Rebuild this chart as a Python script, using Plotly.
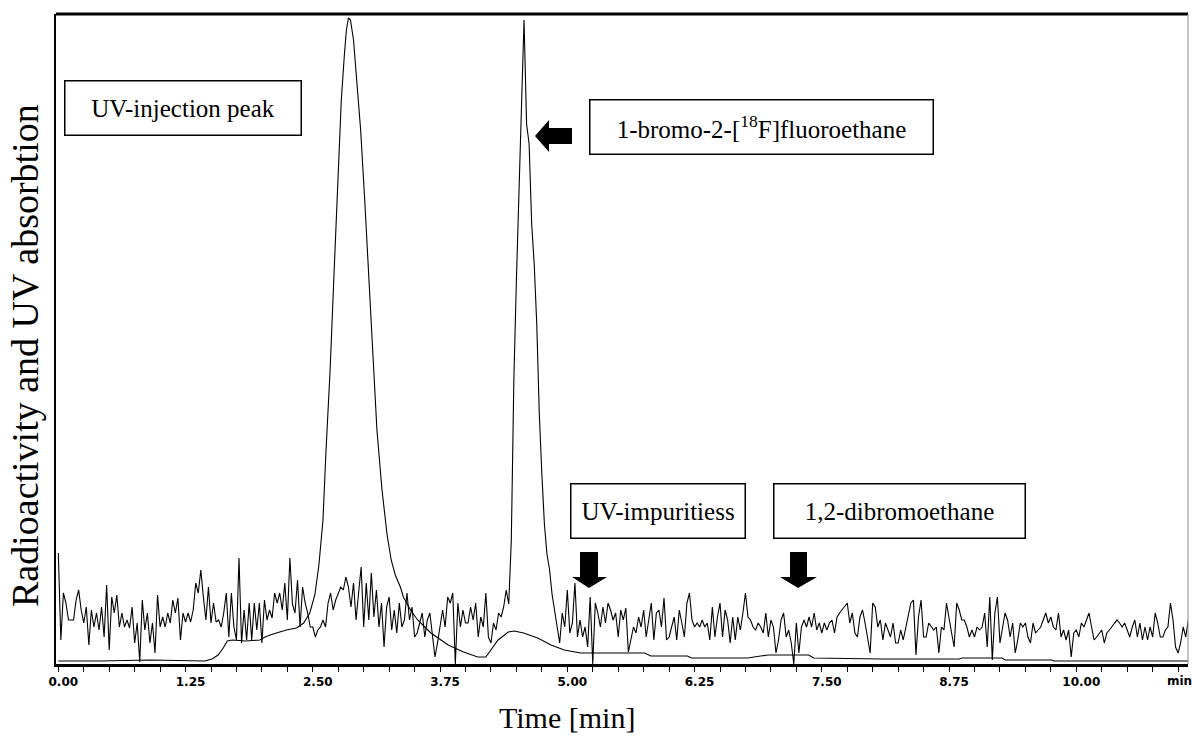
import numpy as np
import plotly.graph_objects as go

# ---------------- data ----------------
DT = 0.025  # sampling step of the radioactivity trace [min]
radio_signal = [
    # 0.00 - 2.75 min
    111, 24, 71, 61, 44, 44, 44, 64, 74, 54,
    41, 57, 19, 54, 37, 51, 34, 57, 27, 79,
    14, 67, 51, 69, 37, 51, 37, 44, 36, 57,
    21, 41, 2, 64, 34, 51, 21, 41, 11, 69,
    37, 47, 37, 51, 41, 64, 51, 66, 24, 51,
    42, 51, 42, 54, 81, 71, 94, 67, 44, 77,
    41, 61, 42, 44, 37, 51, 71, 27, 71, 37,
    24, 106, 21, 54, 24, 61, 24, 61, 34, 61,
    21, 64, 44, 54, 46, 71, 61, 71, 54, 81,
    44, 106, 60, 51, 84, 37, 77, 61, 51, 37,
    37, 27, 34, 37, 44, 37, 61, 71, 54, 64,
    71,
    # 2.775 - 4.40 min
    77, 74, 87, 77, 57, 81, 44, 71, 97, 37,
    81, 44, 91, 47, 74, 37, 61, 17, 57, 67,
    34, 54, 31, 61, 37, 44, 71, 44, 57, 27,
    31, 41, 51, 27, 44, 51, 27, 7, 21, 37,
    54, 37, 67, 61, 71, 0, 61, 37, 54, 41,
    41, 57, 44, 61, 27, 47, 37, 71, 27, 21,
    41, 34, 51, 47, 57, 74,
    # 1-bromo-2-[18F]fluoroethane peak
    60, 124, 284, 384, 474, 544, 644, 540, 520, 440,
    400, 340, 250, 190, 140, 110, 95, 70, 55, 40, 21,
    # 4.95 - 5.45 min
    51, 37, 74, 31, 41, 81, 27, 44, 27, 37,
    17, 67, 0, 61, 51, 37, 57, 41, 61, 54, 44,
    # 5.475 - 8.225 min
    51, 27, 54, 44, 56, 12, 24, 37, 31, 47,
    37, 54, 27, 44, 61, 24, 51, 54, 37, 66,
    24, 27, 37, 47, 24, 54, 41, 27, 61, 71,
    44, 37, 41, 37, 44, 37, 41, 24, 57, 27,
    47, 61, 27, 54, 44, 21, 47, 24, 47, 34,
    51, 71, 47, 44, 37, 34, 41, 37, 31, 51,
    27, 44, 37, 11, 24, 44, 51, 27, 34, 21,
    0, 41, 11, 37, 44, 37, 47, 37, 51, 34,
    41, 31, 41, 34, 41, 44, 31, 47, 51, 54,
    57, 61, 41, 51, 31, 27, 47, 54, 41, 24,
    11, 61, 57, 37, 44, 24, 41, 34, 27, 41,
    21,
    # 8.25 - 11.10 min
    21, 34, 24, 37, 47, 61, 64, 9, 47, 64,
    27, 27, 41, 37, 34, 37, 11, 37, 34, 61,
    44, 31, 17, 61, 54, 44, 44, 37, 27, 34,
    27, 37, 34, 37, 51, 17, 67, 4,
    51, 67, 21, 37, 51, 44, 27, 41, 11, 24,
    41, 37, 41, 27, 21, 41, 31, 34, 37, 44,
    51, 41, 47, 37, 34, 51, 27, 34, 24, 34, 7,
    31, 34, 27, 41, 37, 44, 51, 37, 24, 27,
    31, 34, 21, 31, 34, 37, 41, 44, 41, 37,
    41, 34, 27, 37, 44, 27, 41, 24, 37, 24,
    37, 27, 51, 41, 27, 27, 34, 37, 61, 44,
    17, 11, 21, 37, 27, 44,
]
radio_time = np.arange(len(radio_signal)) * DT

uv_time = [0.00, 0.41, 0.90, 1.44, 1.51, 1.57, 1.62, 1.66, 1.71, 1.84,
           1.98, 2.03, 2.11, 2.24, 2.34, 2.41, 2.47, 2.52, 2.56, 2.60,
           2.63, 2.67, 2.71, 2.75, 2.78, 2.81, 2.83, 2.85, 2.87, 2.90,
           2.93, 2.97, 3.01, 3.05, 3.09, 3.13, 3.18, 3.23, 3.27, 3.31,
           3.36, 3.39, 3.46, 3.53, 3.66, 3.83, 3.98, 4.12, 4.20, 4.25,
           4.32, 4.42, 4.48, 4.57, 4.71, 4.84, 4.97, 5.13, 5.33, 5.76,
           5.82, 6.18, 6.22, 6.77, 6.97, 7.37, 7.42, 8.09, 8.85, 8.88,
           9.27, 9.30, 9.76, 9.78, 11.12]
uv_signal = [3, 3, 4, 3, 5, 9, 16, 23, 24, 23,
             24, 27, 30, 34, 36, 41, 51, 69, 99, 144,
             214, 294, 394, 494, 564, 609, 634, 646, 644, 624,
             589, 534, 464, 384, 304, 234, 174, 129, 104, 89,
             77, 67, 54, 44, 31, 19, 12, 7, 7, 14,
             24, 32, 33, 31, 26, 19, 14, 11, 11, 11,
             8, 8, 6, 6, 9, 9, 6, 5, 5, 6,
             6, 4, 4, 3, 3]

major_ticks = [0.0, 1.25, 2.5, 3.75, 5.0, 6.25, 7.5, 8.75, 10.0]
major_labels = ["0.00", "1.25", "2.50", "3.75", "5.00", "6.25", "7.50",
                "8.75", "10.00"]
unit_tick = 11.0
unit_label = "min"

# ---------------- figure ----------------
W, H = 1192, 737
L, R, T, B = 56, 4, 14, 73
PW, PH = W - L - R, H - T - B
X0_PX, PX_PER_MIN = 58.3, 101.8


def px(x):
    return (x - L) / PW


def py(y):
    return (H - B - y) / PH


fig = go.Figure()
fig.add_trace(go.Scatter(x=uv_time, y=uv_signal, mode="lines",
                         line=dict(color="black", width=1.1),
                         hoverinfo="skip"))
fig.add_trace(go.Scatter(x=radio_time, y=radio_signal, mode="lines",
                         line=dict(color="black", width=1.1),
                         hoverinfo="skip"))

serif = "Liberation Serif, Times New Roman, serif"
tickfont = dict(family="DejaVu Sans", size=12, color="black", weight="bold")

annots = []


def box(text, x0, y0, x1, y1, size=25):
    annots.append(dict(
        text=text, xref="paper", yref="paper",
        x=px((x0 + x1) / 2), y=py((y0 + y1) / 2),
        xanchor="center", yanchor="middle", showarrow=False,
        width=x1 - x0 - 2, height=y1 - y0 - 2, borderpad=0,
        bordercolor="black", borderwidth=1.5, bgcolor="white",
        font=dict(family=serif, size=size, color="black")))


box("UV-injection peak", 64, 81, 301, 136)
box("1-bromo-2-[<sup>18</sup>F]fluoroethane", 589, 99, 933, 154)
box("UV-impuritiess", 570, 484, 745, 539)
box("1,2-dibromoethane", 773, 484, 1025, 539)

annots.append(dict(text="Time [min]", xref="paper", yref="paper",
                   x=px(567), y=py(717), xanchor="center", yanchor="middle",
                   showarrow=False, font=dict(family=serif, size=30, color="black")))
annots.append(dict(text="Radioactivity and UV absorbtion", xref="paper", yref="paper",
                   x=px(25), y=py(356), xanchor="center", yanchor="middle",
                   textangle=-90, showarrow=False,
                   font=dict(family=serif, size=38, color="black")))
annots.append(dict(text=unit_label, xref="x", yref="paper",
                   x=unit_tick, y=py(681), xanchor="center", yanchor="middle",
                   xshift=1, showarrow=False, font=tickfont))


def path(points):
    s = "M " + " L ".join(f"{px(a):.5f},{py(b):.5f}" for a, b in points) + " Z"
    return dict(type="path", xref="paper", yref="paper", path=s,
                fillcolor="black", line=dict(color="black", width=0))


shapes = [
    # left-pointing arrow
    path([(535, 136), (549, 120), (549, 128), (572, 128), (572, 144),
          (549, 144), (549, 152)]),
    # down arrows
    path([(580, 552), (598, 552), (598, 577), (607, 577), (589, 588),
          (572, 577), (580, 577)]),
    path([(790, 552), (807, 552), (807, 577), (817, 577), (798, 588),
          (780, 577), (790, 577)]),
    # frame: thick top, thin right
    dict(type="line", xref="paper", yref="paper", x0=0, x1=1, y0=1, y1=1,
         line=dict(color="black", width=3)),
    dict(type="line", xref="paper", yref="paper", x0=1, x1=1, y0=0, y1=1,
         line=dict(color="#888888", width=1)),
]

fig.update_layout(
    width=W, height=H, margin=dict(l=L, r=R, t=T, b=B, autoexpand=False),
    paper_bgcolor="white", plot_bgcolor="white", showlegend=False,
    annotations=annots, shapes=shapes,
    xaxis=dict(range=[(L - X0_PX) / PX_PER_MIN, (W - R - X0_PX) / PX_PER_MIN],
               automargin=False,
               showline=True, linecolor="black", linewidth=3,
               showgrid=False, zeroline=False,
               tickmode="array", tickvals=major_ticks, ticktext=major_labels,
               ticks="outside", ticklen=5, tickwidth=1, tickcolor="black",
               ticklabelshift=5, tickfont=tickfont,
               minor=dict(dtick=0.25, tick0=0, ticks="outside", ticklen=5,
                          tickwidth=1, tickcolor="black", showgrid=False)),
    yaxis=dict(range=[0, 650], automargin=False,
               showline=True, linecolor="black", linewidth=1.5,
               showgrid=False, zeroline=False, showticklabels=False, ticks=""),
)

fig.write_html("out.html", config={"displayModeBar": False},
               post_script="document.body.style.margin='0px';"
                           "document.body.style.overflow='hidden';")
